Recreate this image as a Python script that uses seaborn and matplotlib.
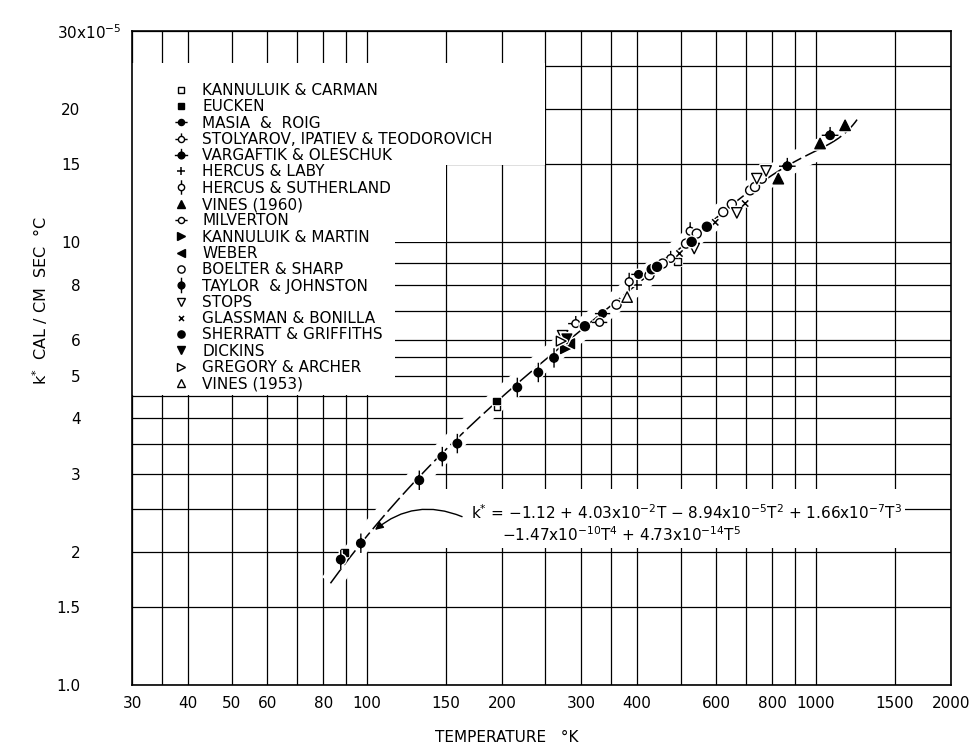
import numpy as np
import matplotlib
matplotlib.use("Agg")
import matplotlib.pyplot as plt
import seaborn as sns
from matplotlib.path import Path
from matplotlib.lines import Line2D
from matplotlib.patches import Rectangle
from matplotlib.ticker import FixedLocator, FixedFormatter, NullFormatter
import matplotlib.patheffects as pe

# ---------------- data (k in units of 1e-5 cal/cm sec C) ----------------
coef = [-1.12, 4.03e-2, -8.94e-5, 1.66e-7, -1.47e-10, 4.73e-14]
curve_T_lo, curve_T_hi = 83, 1250

kannuluik_carman_T = [195, 492]
kannuluik_carman_k = [4.25, 9.06]
eucken_T = [89.4, 194.7]
eucken_k = [1.99, 4.38]
masia_roig_T = [335, 403]
masia_roig_k = [6.90, 8.46]
stolyarov_T = [292, 475]
stolyarov_k = [6.55, 9.19]
vargaftik_T = [864, 1076]
vargaftik_k = [14.85, 17.44]
hercus_laby_T = [399]
hercus_laby_k = [8.0]
hercus_sutherland_T = [384, 525]
hercus_sutherland_k = [8.14, 10.59]
vines1960_T = [825, 1022, 1162]
vines1960_k = [13.92, 16.71, 18.37]
milverton_T = [330]
milverton_k = [6.59]
kannuluik_martin_T = [277]
kannuluik_martin_k = [5.75]
weber_T = [283]
weber_k = [5.9]
boelter_sharp_T = [360, 426, 456, 514, 543, 622, 650, 714, 732, 758]
boelter_sharp_k = [7.23, 8.42, 8.95, 9.93, 10.46, 11.70, 12.19, 13.10, 13.33, 13.92]
taylor_johnston_T = [87.5, 97.0, 130.9, 147.3, 159.1, 216.4, 241.0, 261.2]
taylor_johnston_k = [1.92, 2.09, 2.90, 3.28, 3.51, 4.70, 5.08, 5.48]
stops_T = [273, 536, 667, 739, 775]
stops_k = [6.15, 9.68, 11.65, 13.92, 14.49]
glassman_T = [497, 597, 696]
glassman_k = [9.43, 11.09, 12.23]
sherratt_T = [306, 431, 443, 529, 572]
sherratt_k = [6.46, 8.69, 8.80, 10.02, 10.84]
dickins_T = [279]
dickins_k = [6.05]
gregory_T = [271]
gregory_k = [5.98]
vines1953_T = [380]
vines1953_k = [7.52]

names = ["KANNULUIK & CARMAN", "EUCKEN", "MASIA  &  ROIG",
         "STOLYAROV, IPATIEV & TEODOROVICH", "VARGAFTIK & OLESCHUK",
         "HERCUS & LABY", "HERCUS & SUTHERLAND", "VINES (1960)", "MILVERTON",
         "KANNULUIK & MARTIN", "WEBER", "BOELTER & SHARP", "TAYLOR  & JOHNSTON",
         "STOPS", "GLASSMAN & BONILLA", "SHERRATT & GRIFFITHS", "DICKINS",
         "GREGORY & ARCHER", "VINES (1953)"]
series_T = [kannuluik_carman_T, eucken_T, masia_roig_T, stolyarov_T, vargaftik_T,
            hercus_laby_T, hercus_sutherland_T, vines1960_T, milverton_T,
            kannuluik_martin_T, weber_T, boelter_sharp_T, taylor_johnston_T,
            stops_T, glassman_T, sherratt_T, dickins_T, gregory_T, vines1953_T]
series_k = [kannuluik_carman_k, eucken_k, masia_roig_k, stolyarov_k, vargaftik_k,
            hercus_laby_k, hercus_sutherland_k, vines1960_k, milverton_k,
            kannuluik_martin_k, weber_k, boelter_sharp_k, taylor_johnston_k,
            stops_k, glassman_k, sherratt_k, dickins_k, gregory_k, vines1953_k]

x_major = [30, 40, 50, 60, 80, 100, 150, 200, 300, 400, 600, 800, 1000, 1500, 2000]
x_minor = [35, 70, 90, 250, 350, 500, 700, 900]
y_major = [1, 1.5, 2, 3, 4, 5, 6, 8, 10, 15, 20]
y_major_labels = ["1.0", "1.5", "2", "3", "4", "5", "6", "8", "10", "15", "20"]
y_minor = [2.5, 3.5, 4.5, 5.5, 7, 9, 25]

# ---------------- marker shapes ----------------
def seg(p, q):
    return Path([p, q], [Path.MOVETO, Path.LINETO])

circ = Path.unit_circle()
M_H = Path.make_compound_path(circ, seg((-2.0, 0), (-1, 0)), seg((1, 0), (2.0, 0)))
M_HUP = Path.make_compound_path(circ, seg((-2.0, 0), (-1, 0)), seg((1, 0), (2.0, 0)),
                                seg((0, 1), (0, 2.0)))
M_V = Path.make_compound_path(circ, seg((0, 1), (0, 2.3)), seg((0, -1), (0, -2.3)))

W, B = "white", "black"
styles = [("s", W, 5.0), ("s", B, 5.0), (M_H, B, 11), (M_HUP, W, 11), (M_HUP, B, 12),
          ("+", None, 7), (M_V, W, 13), ("^", B, 7.5), (M_H, W, 11), (">", B, 7),
          ("<", B, 7), ("o", W, 6.5), (M_V, B, 14), ("v", W, 7.5), ("x", None, 4.5),
          ("o", B, 6.5), ("v", B, 7), (">", W, 7), ("^", W, 7.5)]

# ---------------- figure ----------------
sns.set_theme(style="white")
plt.rcParams["font.family"] = ["DejaVu Sans"]
plt.rcParams["mathtext.fontset"] = "dejavusans"
plt.rcParams["text.color"] = "black"
plt.rcParams["xtick.color"] = "black"
plt.rcParams["ytick.color"] = "black"
plt.rcParams["axes.labelcolor"] = "black"

fig = plt.figure(figsize=(9.72, 7.46), dpi=100)
ax = fig.add_axes([132 / 972, 61 / 746, 819 / 972, 654 / 746])
ax.set_xscale("log")
ax.set_yscale("log")
ax.set_xlim(30, 2000)
ax.set_ylim(1, 30)
ax.set_axisbelow(True)

ax.xaxis.set_major_locator(FixedLocator(x_major))
ax.xaxis.set_major_formatter(FixedFormatter([str(v) for v in x_major]))
ax.xaxis.set_minor_locator(FixedLocator(x_minor))
ax.xaxis.set_minor_formatter(NullFormatter())
ax.yaxis.set_major_locator(FixedLocator(y_major + [30]))
ax.yaxis.set_major_formatter(FixedFormatter(y_major_labels + [""]))
ax.yaxis.set_minor_locator(FixedLocator(y_minor))
ax.yaxis.set_minor_formatter(NullFormatter())
ax.grid(True, which="both", color="black", linewidth=0.9)
ax.tick_params(axis="both", which="both", length=0, labelsize=11,
               colors="black", labelcolor="black")
ax.tick_params(axis="x", pad=8)
ax.tick_params(axis="y", pad=37)
for s in ax.spines.values():
    s.set_color("black")
    s.set_linewidth(1.2)

# white masks (legend block and formula block, as in the original sheet)
for (x0, y0, w, h) in [(0.0, 0.443, 0.321, 0.508), (0.32, 0.677, 0.064, 0.274),
                       (0.383, 0.795, 0.121, 0.156), (0.303, 0.21, 0.641, 0.09)]:
    ax.add_patch(Rectangle((x0, y0), w, h, transform=ax.transAxes,
                           facecolor="white", edgecolor="none", zorder=1))

# fitted curve
T_curve = np.geomspace(curve_T_lo, curve_T_hi, 400)
k_curve = np.polyval(coef[::-1], T_curve)
sns.lineplot(x=T_curve, y=k_curve, color="white", linewidth=15, ax=ax, zorder=1.2,
             sort=False, solid_capstyle="butt")
sns.lineplot(x=T_curve, y=k_curve, color="black", linewidth=1.1, ax=ax, zorder=2,
             sort=False, linestyle=(0, (12, 3)))

halo = [pe.withStroke(linewidth=3, foreground="white")]
handles = []
for name, Ts, ks, (m, fc, ms) in zip(names, series_T, series_k, styles):
    lms = ms * 0.8
    if fc is None:
        sns.scatterplot(x=Ts, y=ks, marker=m, color="black", s=ms ** 2,
                        linewidth=1.1, ax=ax, zorder=4, legend=False,
                        path_effects=halo)
        handles.append(Line2D([], [], marker=m, linestyle="none", color="black",
                              markersize=lms, markeredgewidth=1.1))
    else:
        sns.scatterplot(x=Ts, y=ks, marker=m, facecolor=fc, edgecolor="black",
                        s=ms ** 2, linewidth=1.0, ax=ax, zorder=4, legend=False,
                        path_effects=halo)
        handles.append(Line2D([], [], marker=m, linestyle="none", color="black",
                              markerfacecolor=fc, markeredgecolor="black",
                              markersize=lms, markeredgewidth=1.0))

leg = ax.legend(handles, names, loc="upper left",
                bbox_to_anchor=(170 / 972, 1 - 83 / 746),
                bbox_transform=fig.transFigure, frameon=False, fontsize=11,
                labelspacing=0.085, handlelength=1.5, handletextpad=0.62,
                borderpad=0, borderaxespad=0, labelcolor="black")
leg.set_zorder(6)

ax.set_xlabel("")
ax.set_ylabel("")

# formula annotation
ax.text(171, 2.445,
        r"k$^{*}$ = $-$1.12 + 4.03x10$^{-2}$T $-$ 8.94x10$^{-5}$T$^{2}$ + 1.66x10$^{-7}$T$^{3}$",
        fontsize=11, ha="left", va="center", zorder=5)
ax.text(200, 2.18, r"$-$1.47x10$^{-10}$T$^{4}$ + 4.73x10$^{-14}$T$^{5}$",
        fontsize=11, ha="left", va="center", zorder=5)
ax.annotate("", xy=(104.3, 2.24), xytext=(163, 2.40),
            arrowprops=dict(arrowstyle="-|>", color="black", lw=1.0,
                            connectionstyle="arc3,rad=0.3", mutation_scale=12,
                            shrinkA=0, shrinkB=0),
            zorder=5)

# axis titles and top label
fig.text(57 / 972, 1 - 33 / 746, r"30x10$^{-5}$", fontsize=11, ha="left",
         va="center")
fig.text(40 / 972, 1 - 300 / 746, r"k$^{*}$  CAL / CM  SEC  °C", fontsize=11.5,
         rotation=90, ha="center", va="center")
fig.text(507 / 972, 1 - 737 / 746, "TEMPERATURE   °K", fontsize=11,
         ha="center", va="center")

fig.savefig("out.png", dpi=100, facecolor="white")
